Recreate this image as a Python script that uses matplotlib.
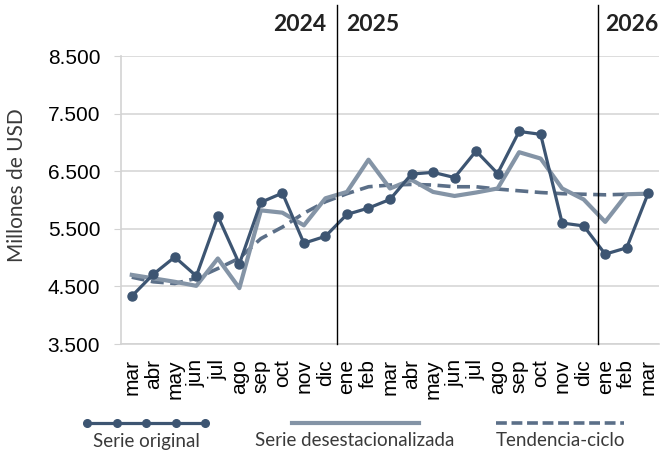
import matplotlib
matplotlib.use("Agg")
import matplotlib.pyplot as plt
from matplotlib.lines import Line2D
from matplotlib.ticker import FuncFormatter, FixedLocator

# months mar 2024 .. mar 2026
months = ["mar", "abr", "may", "jun", "jul", "ago", "sep", "oct", "nov", "dic",
          "ene", "feb", "mar", "abr", "may", "jun", "jul", "ago", "sep", "oct", "nov", "dic",
          "ene", "feb", "mar"]
years = ["2024", "2025", "2026"]

serie_original = [4330, 4710, 5010, 4680, 5720, 4890, 5960, 6120, 5250, 5370,
                  5750, 5860, 6010, 6450, 6480, 6390, 6850, 6460, 7190, 7140, 5600, 5550,
                  5060, 5170, 6120]
serie_desest = [4700, 4640, 4580, 4510, 4985, 4470, 5820, 5780, 5560, 6030,
                6140, 6700, 6200, 6350, 6140, 6070, 6130, 6200, 6830, 6720, 6200, 6010,
                5620, 6100, 6110]
tendencia = [4660, 4580, 4550, 4640, 4810, 4990, 5330, 5530, 5770, 5970,
             6110, 6230, 6260, 6270, 6260, 6230, 6230, 6190, 6160, 6130, 6110, 6100,
             6090, 6100, 6110]

c_orig = "#3d5572"
c_desest = "#8494a6"
c_trend = "#5b6f88"
grid_c = "#d3d3d3"

narrow = ["Liberation Sans Narrow", "Liberation Sans", "DejaVu Sans"]

fig = plt.figure(figsize=(6.67, 4.54), dpi=100)
ax = fig.add_axes([121 / 667, 110 / 454, (659 - 121) / 667, (344 - 56) / 454])

x = list(range(len(months)))
ax.plot(x, tendencia, color=c_trend, lw=2.6, dashes=(3.6, 1.8), zorder=3)
ax.plot(x, serie_desest, color=c_desest, lw=3.0, zorder=4)
ax.plot(x, serie_original, color=c_orig, lw=2.3, marker="o", ms=6.5, zorder=5)

ax.set_xlim(-0.5, len(months) - 0.5)
ax.set_ylim(3500, 8500)
ax.yaxis.set_major_locator(FixedLocator([3500, 4500, 5500, 6500, 7500, 8500]))
ax.yaxis.set_major_formatter(FuncFormatter(lambda v, p: f"{int(v):,}".replace(",", ".")))
ax.set_xticks(x)
ax.set_xticklabels(months, rotation=90, fontsize=15, family=narrow, va="top")
for lab in ax.get_yticklabels():
    lab.set_family(narrow)
    lab.set_fontsize(15)
ax.tick_params(axis="x", length=0, pad=11)
ax.tick_params(axis="y", length=5, color=grid_c, pad=10)
ax.grid(axis="y", color=grid_c, lw=1.1)
ax.set_axisbelow(True)
for s in ["top", "right"]:
    ax.spines[s].set_visible(False)
for s in ["left", "bottom"]:
    ax.spines[s].set_color(grid_c)
    ax.spines[s].set_linewidth(1.2)

# year separators
for xv in [9.55, 21.65]:
    ax.axvline(xv, ymin=0, ymax=1.177, color="black", lw=1.0, clip_on=False, zorder=6)

ydate = 1.111
ax.text(9.05, ydate, years[0], transform=ax.get_xaxis_transform(), ha="right", va="center",
        fontsize=16.5, fontweight="bold", family="Lato", color="#222222")
ax.text(9.95, ydate, years[1], transform=ax.get_xaxis_transform(), ha="left", va="center",
        fontsize=16.5, fontweight="bold", family="Lato", color="#222222")
ax.text(22.0, ydate, years[2], transform=ax.get_xaxis_transform(), ha="left", va="center",
        fontsize=16.5, fontweight="bold", family="Lato", color="#222222")

fig.text(17 / 667, 1 - 185 / 454, "Millones de USD", rotation=90, ha="center", va="center",
         fontsize=15, family="Lato", color="#3a3a3a")

# legend drawn by hand below the plot
yl = 1 - 422.5 / 454
fig.add_artist(Line2D([87 / 667, 205 / 667], [yl, yl], color=c_orig, lw=2.3,
                      transform=fig.transFigure))
fig.add_artist(Line2D([87 / 667, 117 / 667, 146 / 667, 176 / 667, 205 / 667], [yl] * 5,
                      color=c_orig, lw=0, marker="o", ms=5.5, transform=fig.transFigure))
fig.add_artist(Line2D([292 / 667, 419 / 667], [yl, yl], color=c_desest, lw=3.0,
                      transform=fig.transFigure))
fig.add_artist(Line2D([496 / 667, 624 / 667], [yl, yl], color=c_trend, lw=2.6,
                      dashes=(3.0, 1.3), transform=fig.transFigure))
yt = 1 - 441 / 454
for cx, lab in [(146, "Serie original"), (355, "Serie desestacionalizada"), (561, "Tendencia-ciclo")]:
    fig.text(cx / 667, yt, lab, ha="center", va="center", fontsize=13.5, family="Lato",
             color="#3a3a3a")

fig.savefig("out.png", dpi=100)
